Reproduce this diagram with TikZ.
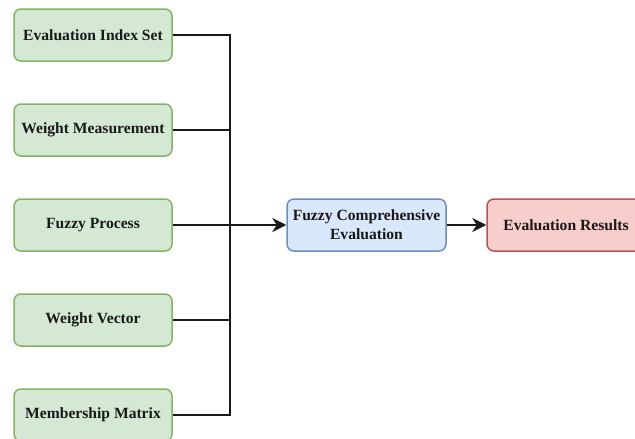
\documentclass[tikz,border=0pt]{standalone}
\usepackage{fontspec}
\setmainfont{Liberation Serif}[BoldFont={Liberation Serif Bold}]
\usetikzlibrary{arrows.meta}
\definecolor{gfill}{HTML}{D5E8D4}\definecolor{gdraw}{HTML}{82B366}
\definecolor{bfill}{HTML}{DAE8FC}\definecolor{bdraw}{HTML}{6C8EBF}
\definecolor{rfill}{HTML}{F8CECC}\definecolor{rdraw}{HTML}{B85450}
\tikzset{
  box/.style={rounded corners=7pt, line width=1.5pt, minimum width=158pt, minimum height=52pt,
    inner sep=0pt, align=center, font=\fontsize{15.6}{19}\selectfont\bfseries, text=black!90},
  gbox/.style={box, fill=gfill, draw=gdraw},
  bbox/.style={box, fill=bfill, draw=bdraw, minimum width=159pt},
  rbox/.style={box, fill=rfill, draw=rdraw},
  conn/.style={line width=2pt, draw=black!90},
  arr/.style={conn, -{Stealth[length=14pt,width=14pt,inset=4.5pt]}}
}
\begin{document}
\begin{tikzpicture}[x=1pt,y=-1pt]
\useasboundingbox (0,0) rectangle (635,439);
\node[gbox] (a) at (93,35) {Evaluation Index Set};
\node[gbox] (b) at (93,130) {Weight Measurement};
\node[gbox] (c) at (93,225) {Fuzzy Process};
\node[gbox] (d) at (93,320) {Weight Vector};
\node[gbox] (e) at (93,415) {Membership Matrix};
\node[bbox] (f) at (366.5,225) {Fuzzy Comprehensive\\Evaluation};
\node[rbox] (g) at (566,225) {Evaluation Results};
\coordinate (top) at (230,35);
\coordinate (bot) at (230,415);
\coordinate (mid) at (230,225);
\draw[conn] (a.east) -- (top) -- (bot) -- (e.east);
\draw[conn] (b.east) -- (b.east -| mid);
\draw[conn] (d.east) -- (d.east -| mid);
\draw[conn] (c.east) -- (mid);
\draw[arr] (mid) -- (f.west);
\draw[arr] (f.east) -- (g.west);
\end{tikzpicture}
\end{document}
